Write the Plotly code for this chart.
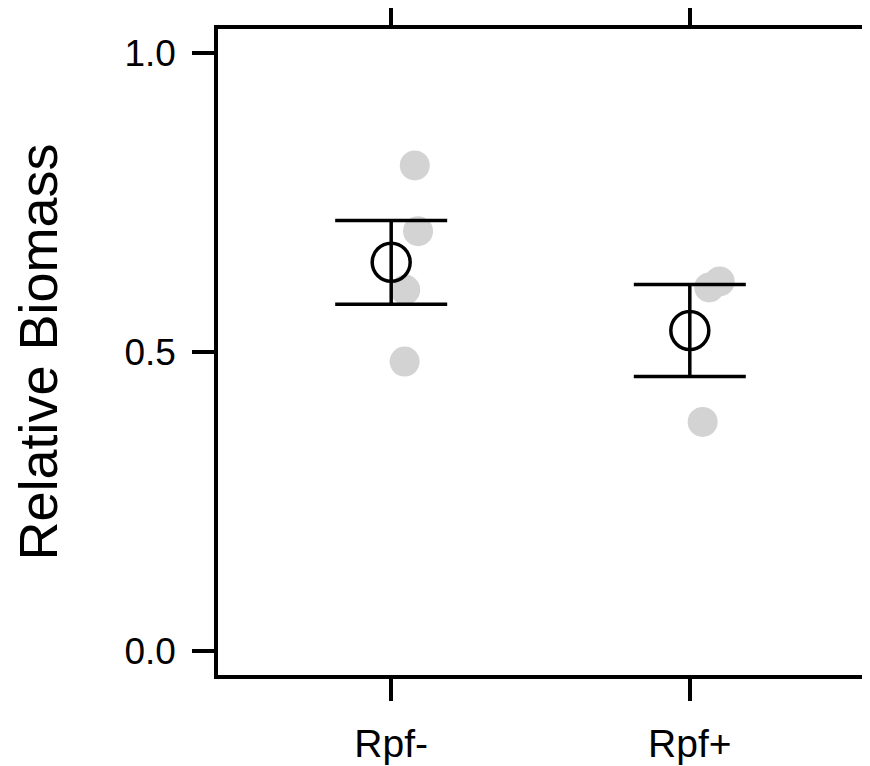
import plotly.graph_objects as go

# ---- data ----
categories = ["Rpf-", "Rpf+"]
cat_pos = [1, 2]

# individual replicate values (relative biomass) and their small horizontal jitter
rpf_minus_vals = [0.812, 0.702, 0.604, 0.484]
rpf_minus_jit = [0.079, 0.090, 0.047, 0.045]
rpf_plus_vals = [0.608, 0.618, 0.383]
rpf_plus_jit = [0.065, 0.100, 0.043]

# group means and standard errors
means = [0.650, 0.536]
ses = [0.070, 0.077]

y_ticks = [0.0, 0.5, 1.0]
y_ticktext = ["0.0", "0.5", "1.0"]

FONT = "Liberation Sans, Arial, Helvetica, sans-serif"
GRAY = "#D3D3D3"

fig = go.Figure()

# replicate points (grey, drawn underneath)
for pos, vals, jit in [(cat_pos[0], rpf_minus_vals, rpf_minus_jit),
                       (cat_pos[1], rpf_plus_vals, rpf_plus_jit)]:
    fig.add_trace(go.Scatter(
        x=[pos + j for j in jit], y=vals, mode="markers",
        marker=dict(size=30, color=GRAY, line=dict(width=0)),
        showlegend=False, hoverinfo="y"))

# means with SE bars
fig.add_trace(go.Scatter(
    x=cat_pos, y=means, mode="markers",
    marker=dict(symbol="circle-open", size=38, color="black",
                line=dict(width=3.5, color="black")),
    error_y=dict(type="data", array=ses, visible=True,
                 thickness=3.5, width=56, color="black"),
    showlegend=False))

# the page body adds an 8px offset; the figure is sized to compensate
fig.update_layout(
    width=862, height=758,
    margin=dict(l=210, r=7, t=21, b=91, autoexpand=False),
    paper_bgcolor="white", plot_bgcolor="white",
    font=dict(family=FONT, color="black"),
)

fig.update_xaxes(
    range=[0.42, 2.58], tickvals=cat_pos, ticktext=categories,
    showgrid=False, zeroline=False, automargin=False,
    showline=True, linewidth=3.5, linecolor="black", mirror="ticks",
    ticks="outside", ticklen=22, tickwidth=3.5, tickcolor="black",
    tickfont=dict(size=39, family=FONT), ticklabelstandoff=9,
)
fig.update_yaxes(
    range=[-0.04, 1.04], tickvals=y_ticks, ticktext=y_ticktext,
    showgrid=False, zeroline=False, automargin=False,
    showline=True, linewidth=3.5, linecolor="black", mirror="ticks",
    ticks="outside", ticklen=22, tickwidth=3.5, tickcolor="black",
    tickfont=dict(size=37, family=FONT), ticklabelstandoff=9,
    title=dict(text="Relative Biomass", font=dict(size=54, family=FONT),
               standoff=51),
)

fig.write_html("out.html")
